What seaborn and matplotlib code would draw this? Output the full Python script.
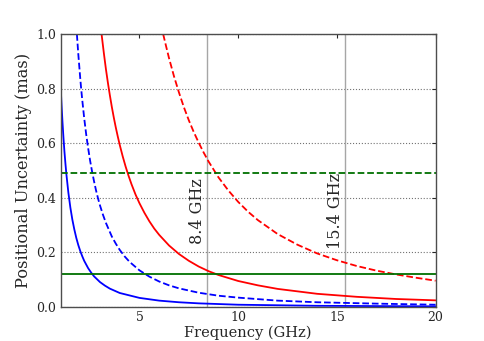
import numpy as np
import pandas as pd
import matplotlib as mpl
mpl.use('Agg')
import matplotlib.pyplot as plt
import seaborn as sns

# curves (frequency in GHz, uncertainty in mas)
blue_solid_f = [1.0, 1.05, 1.1, 1.15, 1.2, 1.25, 1.3, 1.4, 1.5, 1.6, 1.7, 1.8, 1.9, 2.0, 2.1, 2.2, 2.4, 2.55, 2.7,
                3.0, 3.25, 3.5, 4, 5, 6, 7, 8, 10, 12, 14, 17, 20]
blue_solid_y = [0.82, 0.744, 0.678, 0.620, 0.569, 0.525, 0.485, 0.418, 0.364, 0.320, 0.284, 0.253, 0.227, 0.205,
                0.186, 0.169, 0.142, 0.126, 0.112, 0.091, 0.078, 0.067, 0.051, 0.033, 0.023, 0.017, 0.013, 0.008,
                0.006, 0.004, 0.003, 0.002]

blue_dash_f = [1.83, 1.9, 2.0, 2.05, 2.1, 2.2, 2.3, 2.4, 2.5, 2.6, 2.7, 2.8, 2.9, 3.0, 3.15, 3.3, 3.6, 3.8, 4.0,
               4.25, 4.5, 5, 5.5, 6, 6.5, 7, 8, 9, 10, 12, 14, 17, 20]
blue_dash_y = [1.0, 0.928, 0.838, 0.797, 0.760, 0.692, 0.633, 0.582, 0.536, 0.496, 0.460, 0.427, 0.398, 0.372,
               0.338, 0.308, 0.258, 0.232, 0.209, 0.185, 0.165, 0.134, 0.111, 0.093, 0.079, 0.068, 0.052, 0.041,
               0.034, 0.023, 0.017, 0.012, 0.008]

red_solid_f = [3.08, 3.2, 3.3, 3.4, 3.5, 3.6, 3.7, 3.8, 3.9, 4.0, 4.15, 4.3, 4.45, 4.6, 4.8, 5.0, 5.25, 5.5, 5.75,
               6.0, 6.5, 7.0, 7.5, 8.0, 8.5, 9.0, 10, 11, 12, 14, 16, 18, 20]
red_solid_y = [1.0, 0.928, 0.872, 0.822, 0.776, 0.733, 0.694, 0.658, 0.625, 0.594, 0.552, 0.514, 0.480, 0.449,
               0.412, 0.380, 0.345, 0.314, 0.287, 0.264, 0.225, 0.194, 0.169, 0.148, 0.131, 0.117, 0.095, 0.079,
               0.066, 0.048, 0.037, 0.029, 0.024]

red_dash_f = [6.2, 6.35, 6.5, 6.75, 7.0, 7.25, 7.5, 7.75, 8.0, 8.25, 8.5, 9.0, 9.5, 10, 10.5, 11, 12, 13, 14, 15,
              16, 17, 18, 19, 20]
red_dash_y = [1.0, 0.955, 0.911, 0.845, 0.786, 0.732, 0.684, 0.641, 0.602, 0.566, 0.533, 0.475, 0.427, 0.385,
              0.349, 0.318, 0.267, 0.228, 0.196, 0.171, 0.150, 0.133, 0.119, 0.107, 0.096]

green_solid = 0.12
green_dash = 0.49
band_freqs = [8.4, 15.4]
band_labels = ['8.4 GHz', '15.4 GHz']

sns.set_style("white")
plt.rcParams['font.family'] = ['DejaVu Serif']

fig, ax = plt.subplots(figsize=(4.84, 3.41), dpi=100)

for f in band_freqs:
    ax.axvline(f, color='0.65', lw=1.0, zorder=1)

sns.lineplot(x=blue_solid_f, y=blue_solid_y, color='b', lw=1.3, ax=ax)
sns.lineplot(x=blue_dash_f, y=blue_dash_y, color='b', lw=1.3, linestyle='--', ax=ax)
sns.lineplot(x=red_solid_f, y=red_solid_y, color='r', lw=1.3, ax=ax)
sns.lineplot(x=red_dash_f, y=red_dash_y, color='r', lw=1.3, linestyle='--', ax=ax)
ax.axhline(green_solid, color='#007000', lw=1.3)
ax.axhline(green_dash, color='#007000', lw=1.3, linestyle='--')

for f, lab in zip(band_freqs, band_labels):
    ax.text(f - 0.05, 0.35, lab, rotation=90, ha='right', va='center', fontsize=11.5)

ax.set_xlim(1, 20)
ax.set_ylim(0, 1.0)
ax.set_xticks([5, 10, 15, 20])
ax.set_yticks([0.0, 0.2, 0.4, 0.6, 0.8, 1.0])
ax.yaxis.grid(True, linestyle=':', color='0.45', lw=0.8)
ax.tick_params(direction='in', top=True, right=True, labelsize=9, length=3, pad=3)
for s in ax.spines.values():
    s.set_color('0.3')
    s.set_linewidth(1.0)
ax.set_xlabel('Frequency (GHz)', fontsize=10.5, labelpad=1)
ax.set_ylabel('Positional Uncertainty (mas)', fontsize=11.7, labelpad=3)

plt.subplots_adjust(left=0.125, right=0.9, top=0.9, bottom=0.1)
plt.savefig('out.png')
